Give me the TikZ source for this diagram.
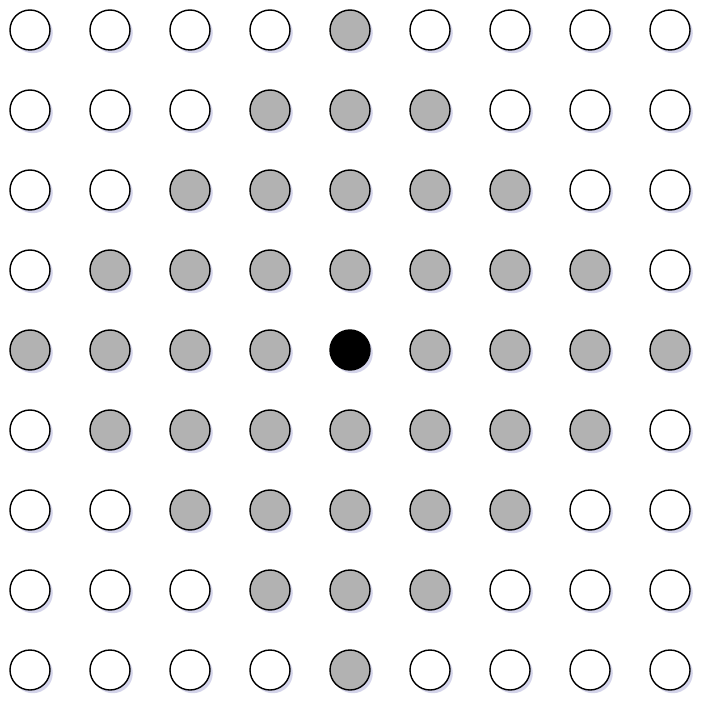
\documentclass[tikz,border=0pt]{standalone}
\usetikzlibrary{positioning, shadows}
\tikzset{
  dot/.style={draw, circle, line width=0.5pt, minimum size=0.5cm, inner sep=0pt, fill=white,
    drop shadow={shadow xshift=0.035cm, shadow yshift=-0.04cm, fill=blue!35!gray, opacity=0.25}},
  reach/.style={dot, fill=gray!60},
  origin/.style={dot, fill=black},
}
\begin{document}
\begin{tikzpicture}
  \useasboundingbox (-0.375,-8.4625) rectangle (8.4625,0.375);
  % 9x9 grid, diamond of radius 4 around the centre
  \foreach \r in {0,...,8} {
    \foreach \c in {0,...,8} {
      \pgfmathtruncatemacro{\d}{abs(\r-4)+abs(\c-4)}
      \ifnum\d=0 \def\kind{origin}\else\ifnum\d<5 \def\kind{reach}\else\def\kind{dot}\fi\fi
      \node[\kind] (p-\r-\c) at (\c,-\r) {};
    }
  }
\end{tikzpicture}
\end{document}
